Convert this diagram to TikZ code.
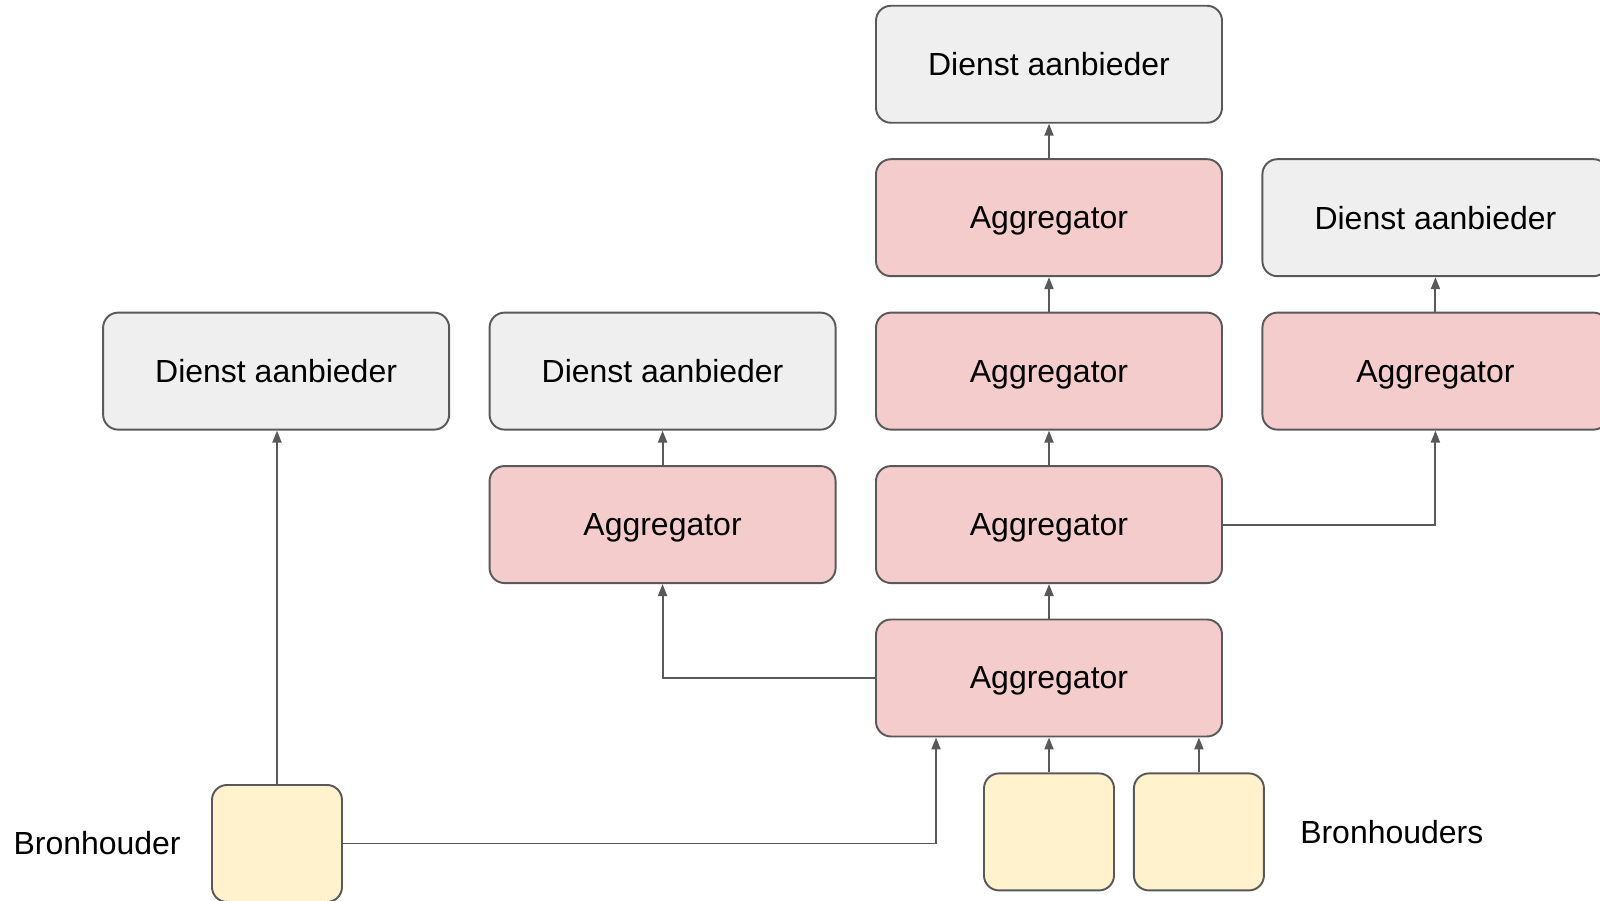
\documentclass[tikz,border=0pt]{standalone}
\usepackage{fontspec}
\setmainfont{Liberation Sans}
\usepackage{tikz}
\usetikzlibrary{arrows.meta,positioning}

\definecolor{dienstgray}{HTML}{EFEFEF}
\definecolor{aggpink}{HTML}{F4CCCC}
\definecolor{bronyellow}{HTML}{FFF2CC}
\definecolor{linegray}{HTML}{595959}

\begin{document}
\begin{tikzpicture}[>={Triangle[length=2.4mm,width=1.8mm]}, node distance=0.69cm and 0.77cm]
		\tikzstyle{dienst} = [draw=linegray, line width=1.1pt, fill=dienstgray, rounded corners=0.3cm, minimum width=6.92cm, minimum height=2.34cm, text depth=0pt, font=\fontsize{18.2}{22}\selectfont]
		\tikzstyle{aggr} = [dienst, fill=aggpink]
		\tikzstyle{bron} = [dienst, fill=bronyellow, minimum width=2.6cm]
		\tikzstyle{bronlabel} = [inner sep=0pt, font=\fontsize{18.2}{22}\selectfont]
		\tikzstyle{conn} = [draw=linegray, line width=1.1pt, ->]

		\useasboundingbox (0,0) rectangle (32,18.02);
		\clip (0,0) rectangle (32,18.02);

		\path
		node[aggr] at (20.98,4.46) (agg0) {Aggregator}
		node[aggr, above=of agg0] (agg1) {Aggregator}
		node[aggr, above=of agg1] (agg2) {Aggregator}
		node[aggr, above=of agg2] (agg3) {Aggregator}
		node[dienst, above=of agg3] (dienst3) {Dienst aanbieder}

		node[aggr, left=of agg1] (aggl) {Aggregator}
		node[dienst, above=of aggl] (dienst2) {Dienst aanbieder}
		node[dienst, left=of dienst2] (dienst1) {Dienst aanbieder}

		node[aggr, right=of agg2] (aggr) {Aggregator}
		node[dienst, above=of aggr] (dienst4) {Dienst aanbieder}

		node[bron, below=0.7cm of agg0] (bron1) {}
		node[bron, right=0.36cm of bron1] (bron2) {}
		node[bronlabel, right=0.7cm of bron2] {Bronhouders}

		node[bron] at (5.54,1.15) (bronl) {}
		node[bronlabel, left=0.6cm of bronl] {Bronhouder}

		(bron1) edge[conn] (agg0)
		(bron2.north) edge[conn] (bron2.north |- agg0.south)
		(agg0) edge[conn] (agg1)
		(agg1) edge[conn] (agg2)
		(agg2) edge[conn] (agg3)
		(agg3) edge[conn] (dienst3)
		(aggl) edge[conn] (dienst2)
		(aggr) edge[conn] (dienst4)
		(bronl.north) edge[conn] (bronl.north |- dienst1.south)
		;

		\draw[conn] (bronl.east) -| ([xshift=1.22cm]agg0.south west);
		\draw[conn] (agg0.west) -| (aggl.south);
		\draw[conn] (agg1.east) -| (aggr.south);

		\end{tikzpicture}
\end{document}
